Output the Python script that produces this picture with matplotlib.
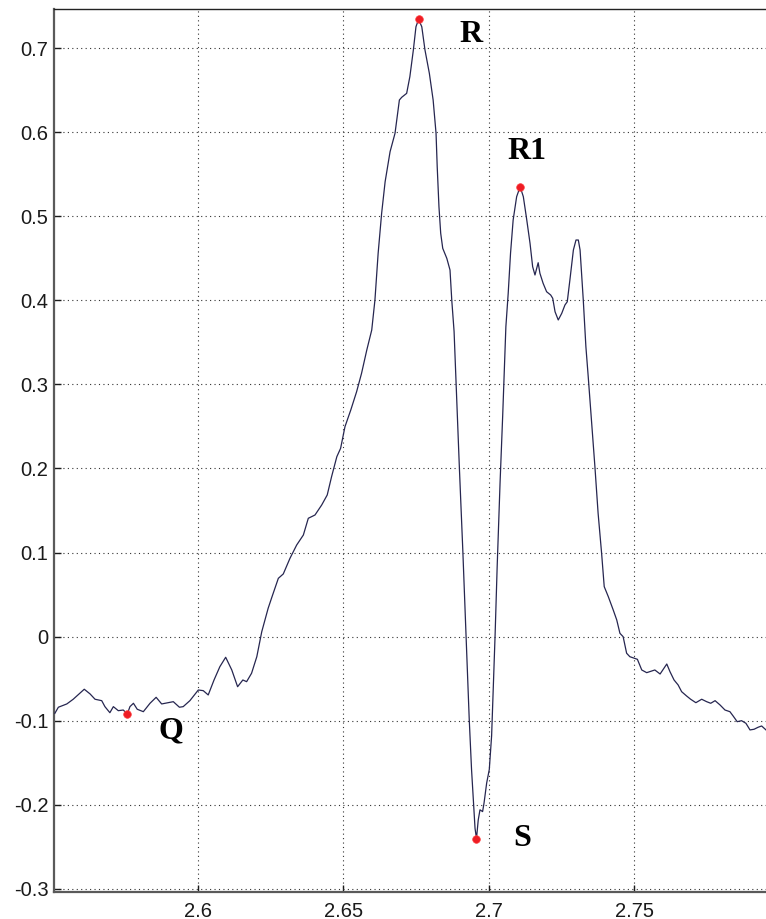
import matplotlib
matplotlib.use("Agg")
import matplotlib.pyplot as plt

# signal trace (time in s, amplitude)
t = [2.5509, 2.5521, 2.5550, 2.5572, 2.5595, 2.5610, 2.5630, 2.5647, 2.5670, 2.5681,
     2.5698, 2.5710, 2.5727, 2.5744, 2.5758, 2.5767, 2.5779, 2.5792, 2.5813, 2.5836,
     2.5857, 2.5876, 2.5899, 2.5916, 2.5937, 2.5950, 2.5973, 2.6002, 2.6019, 2.6036,
     2.6056, 2.6076, 2.6096, 2.6117, 2.6137, 2.6155, 2.6168, 2.6185, 2.6203, 2.6220,
     2.6242, 2.6255, 2.6277, 2.6294, 2.6317, 2.6340, 2.6363, 2.6380, 2.6403, 2.6426,
     2.6445, 2.6460, 2.6478, 2.6491, 2.6506, 2.6526, 2.6546, 2.6563, 2.6581, 2.6598,
     2.6609, 2.6620, 2.6632, 2.6644, 2.6661, 2.6678, 2.6693, 2.6701, 2.6718, 2.6729,
     2.6741, 2.6750, 2.6759, 2.6770, 2.6781, 2.6796, 2.6809, 2.6819, 2.6823, 2.6829,
     2.6835, 2.6842, 2.6856, 2.6867, 2.6873, 2.6881, 2.6890, 2.6899, 2.6911, 2.6922,
     2.6933, 2.6941, 2.6949, 2.6953, 2.6958, 2.6964, 2.6970, 2.6979, 2.6984, 2.6993,
     2.7002, 2.7010, 2.7016, 2.7022, 2.7029, 2.7039, 2.7048, 2.7052, 2.7059, 2.7067,
     2.7075, 2.7084, 2.7096, 2.7108, 2.7119, 2.7130, 2.7142, 2.7151, 2.7159, 2.7170,
     2.7176, 2.7187, 2.7199, 2.7213, 2.7220, 2.7228, 2.7239, 2.7251, 2.7262, 2.7270,
     2.7279, 2.7291, 2.7300, 2.7308, 2.7314, 2.7325, 2.7334, 2.7342, 2.7354, 2.7365,
     2.7376, 2.7388, 2.7397, 2.7411, 2.7428, 2.7440, 2.7451, 2.7462, 2.7474, 2.7485,
     2.7511, 2.7526, 2.7543, 2.7571, 2.7589, 2.7612, 2.7623, 2.7637, 2.7651, 2.7663,
     2.7680, 2.7694, 2.7712, 2.7732, 2.7749, 2.7763, 2.7778, 2.7795, 2.7812, 2.7829,
     2.7840, 2.7854, 2.7869, 2.7884, 2.7898, 2.7912, 2.7926, 2.7938, 2.7953]
amp = [-0.0911, -0.0839, -0.0800, -0.0744, -0.0673, -0.0625, -0.0681, -0.0744, -0.0761, -0.0832,
       -0.0904, -0.0832, -0.0880, -0.0872, -0.0919, -0.0832, -0.0792, -0.0863, -0.0892, -0.0792,
       -0.0721, -0.0800, -0.0785, -0.0773, -0.0839, -0.0832, -0.0761, -0.0634, -0.0642, -0.0693,
       -0.0515, -0.0357, -0.0245, -0.0396, -0.0595, -0.0515, -0.0535, -0.0435, -0.0238, 0.0059,
       0.0338, 0.0472, 0.0694, 0.0746, 0.0932, 0.1090, 0.1209, 0.1408, 0.1447, 0.1566,
       0.1685, 0.1903, 0.2140, 0.2240, 0.2497, 0.2696, 0.2913, 0.3132, 0.3409, 0.3647,
       0.4004, 0.4559, 0.5034, 0.5410, 0.5767, 0.5986, 0.6382, 0.6414, 0.6461, 0.6659,
       0.6976, 0.7253, 0.7341, 0.7253, 0.6976, 0.6699, 0.6382, 0.5986, 0.5589, 0.5113,
       0.4797, 0.4618, 0.4499, 0.4360, 0.4004, 0.3629, 0.2828, 0.2026, 0.1025, 0.0024,
       -0.0977, -0.1579, -0.2059, -0.2279, -0.2401, -0.2180, -0.2059, -0.2080, -0.1977, -0.1740,
       -0.1579, -0.1178, -0.0577, 0.0024, 0.0825, 0.1828, 0.2624, 0.3013, 0.3686, 0.4083,
       0.4559, 0.4955, 0.5232, 0.5351, 0.5232, 0.4975, 0.4678, 0.4400, 0.4301, 0.4447,
       0.4321, 0.4202, 0.4102, 0.4063, 0.4024, 0.3864, 0.3766, 0.3845, 0.3944, 0.3983,
       0.4241, 0.4598, 0.4717, 0.4717, 0.4598, 0.4004, 0.3448, 0.3092, 0.2537, 0.2021,
       0.1467, 0.0992, 0.0595, 0.0476, 0.0317, 0.0199, 0.0040, 0.0000, -0.0197, -0.0238,
       -0.0269, -0.0396, -0.0428, -0.0396, -0.0444, -0.0325, -0.0416, -0.0515, -0.0574, -0.0654,
       -0.0705, -0.0744, -0.0785, -0.0744, -0.0773, -0.0792, -0.0761, -0.0812, -0.0872, -0.0892,
       -0.0943, -0.1011, -0.0999, -0.1030, -0.1109, -0.1101, -0.1077, -0.1062, -0.1109]

# marked points
pt_names = ["Q", "R", "S", "R1"]
pt_t = [2.5758, 2.6759, 2.6958, 2.7108]
pt_amp = [-0.0919, 0.7341, -0.2401, 0.5351]
# where the letters sit
lbl_t = [2.5908, 2.6939, 2.7116, 2.7130]
lbl_amp = [-0.1121, 0.7166, -0.2405, 0.5775]

xticks = [2.6, 2.65, 2.7, 2.75]
yticks = [-0.3, -0.2, -0.1, 0, 0.1, 0.2, 0.3, 0.4, 0.5, 0.6, 0.7]

plt.rcParams['font.family'] = ['Liberation Sans', 'DejaVu Sans']

fig = plt.figure(figsize=(7.66, 9.19), dpi=100)
ax = fig.add_axes([0.0705, 0.0294, 0.9295, 0.9608])

ax.plot(t, amp, color='#262650', lw=0.9, zorder=3)
ax.plot(pt_t, pt_amp, 'o', color='#ee1c24', ms=5.5, mec='#ff4040', mew=0.5, zorder=4)

for name, x, y in zip(pt_names, lbl_t, lbl_amp):
    ax.text(x, y, name, family='Liberation Serif', fontweight='bold', fontsize=23,
            ha='center', va='center', color='black')

ax.set_xlim(2.5506, 2.7953)
ax.set_ylim(-0.3036, 0.7464)
ax.set_xticks(xticks)
ax.set_xticklabels(['2.6', '2.65', '2.7', '2.75'])
ax.set_yticks(yticks)
ax.set_yticklabels(['-0.3', '-0.2', '-0.1', '0', '0.1', '0.2', '0.3', '0.4', '0.5', '0.6', '0.7'])

ax.grid(True, color='#333333', linestyle=(0, (1, 3)), lw=0.8)
ax.tick_params(direction='in', length=5, width=1, labelsize=14.5, colors='#1a1a1a')
ax.tick_params(axis='x', pad=7)
ax.tick_params(axis='y', pad=4)

ax.spines['right'].set_visible(False)
ax.spines['top'].set_color('#222222')
ax.spines['top'].set_linewidth(1.0)
for s in ['left', 'bottom']:
    ax.spines[s].set_color('#5a5a5a')
    ax.spines[s].set_linewidth(1.6)

fig.savefig('out.png', dpi=100, facecolor='white')
